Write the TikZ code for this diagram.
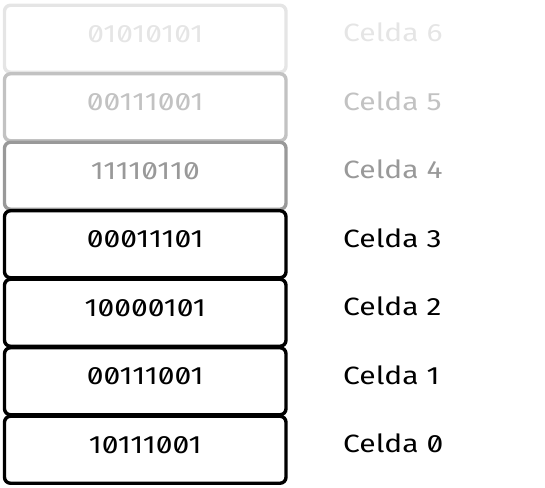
\documentclass[tikz,border=0pt]{standalone}
\usepackage{fontspec}
\setmainfont{Fira Sans}[RawFeature=+zero, FakeStretch=1.2]
\usepackage{tikz}
\usetikzlibrary{positioning}

\begin{document}
\begin{tikzpicture}[
    x=1pt, y=1pt,
    cell/.style={rectangle, draw=#1, text=#1, rounded corners=6pt, line width=3.4pt, minimum width=281.5pt, minimum height=67pt, inner sep=0pt, text height=17pt, text depth=10pt, font=\fontsize{25}{28}\selectfont},
    celdalbl/.style={anchor=base west, text=#1, inner sep=0pt, font=\fontsize{25}{28}\selectfont}]
\useasboundingbox (0,0) rectangle (545,-487);
\node[cell=black!10] (c6) at (145.25,-38.75) {01010101};
\node[cell=black!24] (c5) at (145.25,-107.25) {00111001};
\node[cell=black!40] (c4) at (145.25,-175.75) {11110110};
\node[cell=black] (c3) at (145.25,-244.25) {00011101};
\node[cell=black] (c2) at (145.25,-312.75) {10000101};
\node[cell=black] (c1) at (145.25,-381.25) {00111001};
\node[cell=black] (c0) at (145.25,-449.75) {10111001};
\node[celdalbl=black!10] (l6) at (343,-41.5) {Celda 6};
\node[celdalbl=black!24] (l5) at (343,-110) {Celda 5};
\node[celdalbl=black!40] (l4) at (343,-178.5) {Celda 4};
\node[celdalbl=black] (l3) at (343,-247) {Celda 3};
\node[celdalbl=black] (l2) at (343,-315.5) {Celda 2};
\node[celdalbl=black] (l1) at (343,-384) {Celda 1};
\node[celdalbl=black] (l0) at (343,-452.5) {Celda 0};
\end{tikzpicture}
\end{document}
